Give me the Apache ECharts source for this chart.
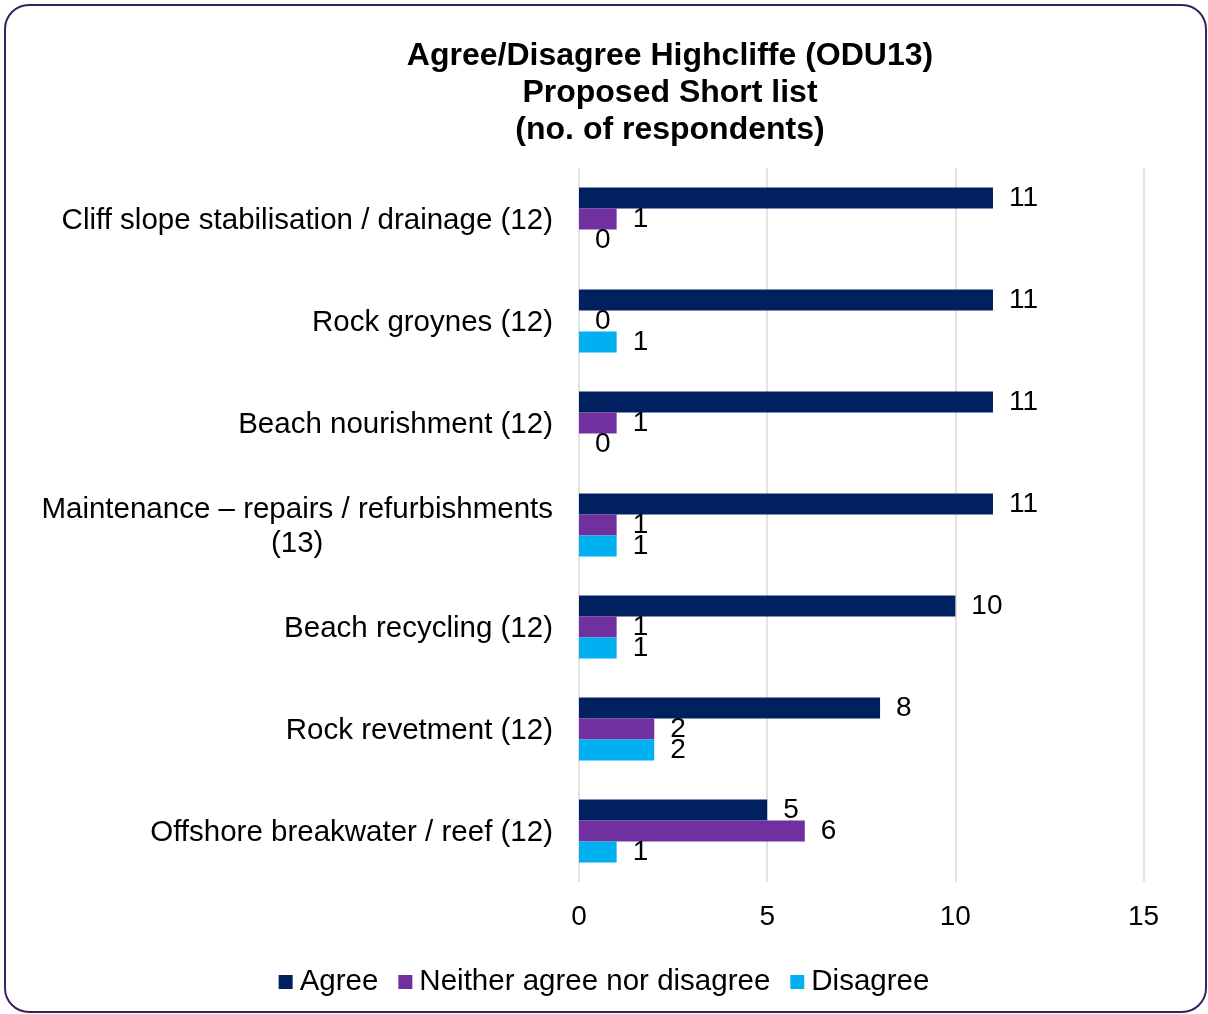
<!DOCTYPE html>
<html>
<head>
<meta charset="utf-8">
<script src="https://cdn.jsdelivr.net/npm/echarts@6/dist/echarts.min.js"></script>
<style>
  html, body { margin: 0; padding: 0; background: #fff; }
  #chart { width: 1208px; height: 1014px; }
</style>
</head>
<body>
<div id="chart"></div>
<script>
// Survey options (top to bottom) and response counts
const categories = [
  'Cliff slope stabilisation / drainage (12)',
  'Rock groynes (12)',
  'Beach nourishment (12)',
  'Maintenance – repairs / refurbishments\n(13)',
  'Beach recycling (12)',
  'Rock revetment (12)',
  'Offshore breakwater / reef (12)'
];
const agree    = [11, 11, 11, 11, 10, 8, 5];
const neither  = [1, 0, 1, 1, 1, 2, 6];
const disagree = [0, 1, 0, 1, 1, 2, 1];
const seriesNames = ['Agree', 'Neither agree nor disagree', 'Disagree'];
const xTicks = { min: 0, max: 15, interval: 5 };

const FONT = '"Liberation Sans", Arial, Helvetica, sans-serif';
const FS = 28;       // tick and value labels
const FS_CAT = 29.5; // category names and legend

// Width of the longest line of a wrapped label, so the block can be centred on itself
function textWidth(str, size, weight) {
  const ctx = document.createElement('canvas').getContext('2d');
  ctx.font = (weight || 'normal') + ' ' + size + 'px ' + FONT;
  return ctx.measureText(str).width;
}

const chart = echarts.init(document.getElementById('chart'), null, { renderer: 'canvas' });

function barSeries(name, data, color) {
  return {
    name: name,
    type: 'bar',
    data: data,
    barGap: '0%',
    barCategoryGap: '38%',
    itemStyle: { color: color },
    label: {
      show: true,
      position: 'right',
      distance: 16,
      offset: [0, 2],
      color: '#000',
      fontSize: FS,
      fontFamily: FONT
    },
    labelLayout: { hideOverlap: false }
  };
}

chart.setOption({
  animation: false,
  backgroundColor: '#fff',
  title: {
    text: 'Agree/Disagree Highcliffe (ODU13)\nProposed Short list\n(no. of respondents)',
    left: 665,
    top: 33,
    textAlign: 'center',
    textStyle: {
      fontFamily: FONT,
      fontSize: 32,
      fontWeight: 'bold',
      color: '#000',
      lineHeight: 37
    }
  },
  legend: {
    data: seriesNames,
    bottom: 12,
    left: 'center',
    itemWidth: 14,
    itemHeight: 14,
    itemGap: 20,
    icon: 'rect',
    textStyle: { fontFamily: FONT, fontSize: FS_CAT, color: '#000', padding: [0, 0, 0, 2] }
  },
  grid: { left: 579, right: 64.5, top: 168, bottom: 132, containLabel: false },
  xAxis: {
    type: 'value',
    min: xTicks.min,
    max: xTicks.max,
    interval: xTicks.interval,
    axisLine: { show: false },
    axisTick: { show: false },
    splitLine: { show: true, lineStyle: { color: '#d9d9d9', width: 1.5 } },
    axisLabel: { fontFamily: FONT, fontSize: FS, color: '#000', margin: 21 }
  },
  yAxis: {
    type: 'category',
    inverse: true,
    data: categories,
    axisLine: { show: false },
    axisTick: { show: false },
    axisLabel: {
      fontFamily: FONT,
      fontSize: FS_CAT,
      color: '#000',
      margin: 26,
      lineHeight: 34,
      padding: [4, 0, 0, 0],
      formatter: function (v) {
        if (v.indexOf('\n') < 0) return v;
        return v.split('\n').map(l => '{c|' + l + '}').join('\n');
      },
      rich: {
        c: {
          fontFamily: FONT,
          fontSize: FS_CAT,
          color: '#000',
          lineHeight: 34,
          align: 'center',
          width: textWidth('Maintenance – repairs / refurbishments', FS_CAT)
        }
      }
    }
  },
  series: [
    barSeries(seriesNames[0], agree, '#002060'),
    barSeries(seriesNames[1], neither, '#7030a0'),
    barSeries(seriesNames[2], disagree, '#00b0f0')
  ],
  graphic: [{
    type: 'rect',
    shape: { x: 5, y: 5, width: 1201, height: 1007, r: 24 },
    style: { fill: 'none', stroke: '#3b2060', lineWidth: 2 },
    silent: true,
    z: 100
  }]
});
</script>
</body>
</html>
